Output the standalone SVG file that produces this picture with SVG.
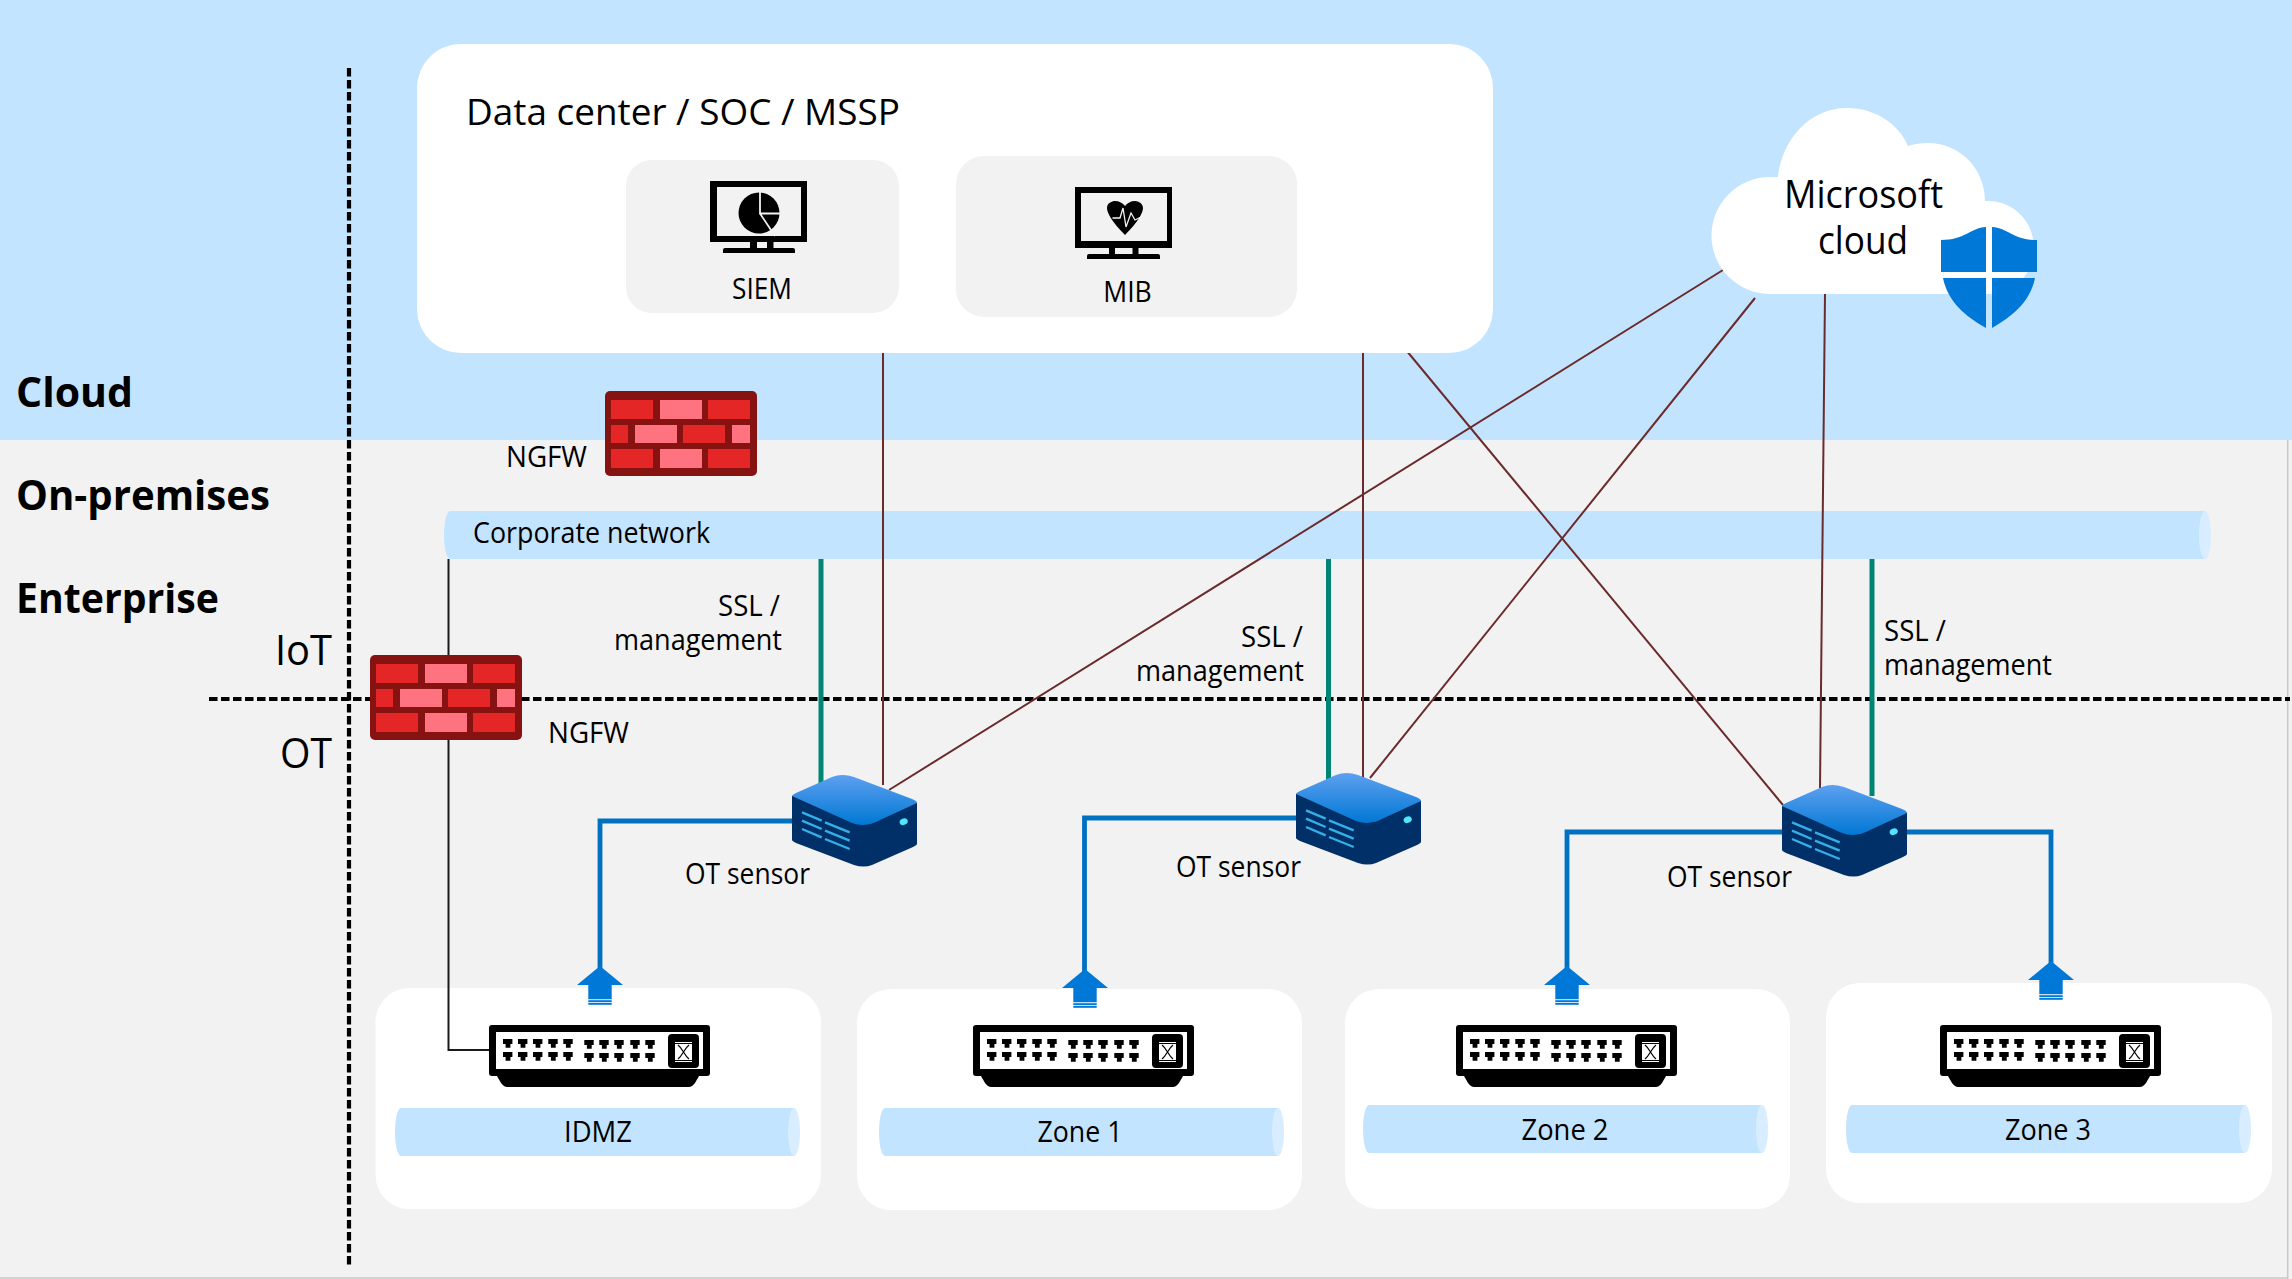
<svg xmlns="http://www.w3.org/2000/svg" width="2292" height="1279" viewBox="0 0 2292 1279">
<style>
text{font-family:"Open Sans","Noto Sans","Liberation Sans",sans-serif;fill:#000}
.l{font-size:28.5px}
.b{font-size:41px;font-weight:700}
.m{font-size:42px}
.c{text-anchor:middle}
.mar{stroke:#6b2a2c;stroke-width:2;fill:none}
.teal{stroke:#008575;stroke-width:5;fill:none}
.blue{stroke:#0070c0;stroke-width:4.8;fill:none;stroke-linejoin:miter}
.blk{stroke:#1a1a1a;stroke-width:2;fill:none}
.dash{stroke:#000;stroke-width:4.2;stroke-dasharray:8.5 3.5;fill:none}
.bar{fill:#c3e4ff}
.cap{fill:#d8edff}
.zone{fill:#fff}
.soft{fill:#f2f2f2}
.red{fill:#e52626}
.pink{fill:#ff7381}
.vent{stroke:#32b0e7;stroke-width:2.4}
</style>
<defs>
<linearGradient id="topFace" x1="0" y1="0" x2="0" y2="1"><stop offset="0" stop-color="#5ea0ef"/><stop offset="1" stop-color="#0078d4"/></linearGradient>
<path id="port" d="M-4.7 0h9.4v5h-2v3.700h-4.800v-3.700h-2.600z"/>
<g id="switch">
<rect x="0" y="0" width="221" height="51" rx="3"/>
<rect x="7" y="7" width="207" height="37" fill="#fff"/>
<path d="M8 51L12 58Q15 62 18 62H200Q203 62 206 58L210 51Z"/>
<rect x="179" y="9" width="31" height="34" rx="4"/>
<rect x="186" y="17" width="17" height="20" fill="#fff"/>
<path d="M186 18.500H203M186 35.500H203M189 20C194 24 195 30 200 34M200 20C195 24 194 30 189 34" stroke="#000" stroke-width="1.200" fill="none"/>
<use href="#port" x="18.700" y="14"/><use href="#port" x="33.700" y="14"/><use href="#port" x="48.700" y="14"/><use href="#port" x="64" y="14"/><use href="#port" x="79" y="14"/>
<use href="#port" x="18.700" y="27"/><use href="#port" x="33.700" y="27"/><use href="#port" x="48.700" y="27"/><use href="#port" x="64" y="27"/><use href="#port" x="79" y="27"/>
<use href="#port" x="100" y="15"/><use href="#port" x="115" y="15"/><use href="#port" x="130" y="15"/><use href="#port" x="146" y="15"/><use href="#port" x="161" y="15"/>
<use href="#port" x="100" y="28"/><use href="#port" x="115" y="28"/><use href="#port" x="130" y="28"/><use href="#port" x="146" y="28"/><use href="#port" x="161" y="28"/>
</g>
<g id="sensor">
<path d="M0 22V66Q0 67 4 69L62 91Q72 94 80 91L121 73Q125 71 125 70V29Z" fill="#003067"/>
<path d="M0 22Q0 21 4 19L40 3Q50 -1 62 3L120 25Q125 27 125 29L88 46Q74 54 60 49Z" fill="url(#topFace)"/>
<path class="vent" d="M10 38.300L29.700 46.700M10 46.600L29.700 55M10 55L29.700 63.400M33 48.300L57.700 58.300M33 56.600L57.700 66.600M33 65L57.700 75"/>
<ellipse cx="111.700" cy="47.700" rx="4.200" ry="3.200" transform="rotate(-25 111.700 47.700)" fill="#50e6ff"/>
</g>
<g id="firewall">
<rect x="0" y="0" width="152" height="85" rx="5" fill="#861212"/>
<rect class="red" x="6" y="9" width="42" height="19"/><rect class="pink" x="55" y="9" width="42" height="19"/><rect class="red" x="103" y="9" width="42" height="19"/>
<rect class="red" x="6" y="34" width="17" height="18"/><rect class="pink" x="30" y="34" width="42" height="18"/><rect class="red" x="78" y="34" width="42" height="18"/><rect class="pink" x="127" y="34" width="18" height="18"/>
<rect class="red" x="6" y="58" width="42" height="19"/><rect class="pink" x="55" y="58" width="42" height="19"/><rect class="red" x="103" y="58" width="42" height="19"/>
</g>
<g id="arrow" fill="#0078d7">
<path d="M0 0L23 19H11.700V33.200H-11.700V19H-23Z"/>
<rect x="-11.700" y="34.200" width="23.400" height="1.800"/>
<rect x="-11.700" y="36.800" width="23.400" height="2"/>
</g>
</defs>

<g id="background">
<rect x="0" y="0" width="2292" height="1279" fill="#f2f2f2"/>
<rect x="0" y="0" width="2292" height="440" fill="#c3e4ff"/>
<path d="M2287.700 440V1279M0 1278H2288" stroke="#c8c8c8" stroke-width="1.500" fill="none"/>
<path class="dash" d="M349 68V1268"/>
<path class="dash" d="M209 699H2290"/>
</g>

<g id="band-labels">
<text class="b" x="16" y="407" textLength="117" lengthAdjust="spacingAndGlyphs">Cloud</text>
<text class="b" x="16" y="510" textLength="254" lengthAdjust="spacingAndGlyphs">On-premises</text>
<text class="b" x="16" y="613" textLength="203" lengthAdjust="spacingAndGlyphs">Enterprise</text>
<text class="m" x="275" y="665" textLength="57" lengthAdjust="spacingAndGlyphs">IoT</text>
<text class="m" x="280" y="768" textLength="52" lengthAdjust="spacingAndGlyphs">OT</text>
</g>

<g id="corporate-network">
<rect class="bar" x="450" y="511" width="1755" height="48"/>
<ellipse class="bar" cx="450" cy="535" rx="6" ry="24"/>
<ellipse class="cap" cx="2205" cy="535" rx="6" ry="24"/>
<text class="l" x="473" y="543" textLength="237" lengthAdjust="spacingAndGlyphs">Corporate network</text>
</g>

<g id="zone-idmz">
<rect class="zone" x="375.500" y="988" width="445.500" height="221" rx="34"/>
<rect class="bar" x="401" y="1108" width="393" height="48"/>
<ellipse class="bar" cx="401" cy="1132" rx="6" ry="24"/>
<ellipse class="cap" cx="794" cy="1132" rx="6" ry="24"/>
<text class="l c" x="598" y="1142" textLength="68" lengthAdjust="spacingAndGlyphs">IDMZ</text>
<use href="#switch" x="489" y="1025"/>
</g>
<g id="zone-1">
<rect class="zone" x="857" y="989" width="445" height="221" rx="34"/>
<rect class="bar" x="885" y="1108" width="393" height="48"/>
<ellipse class="bar" cx="885" cy="1132" rx="6" ry="24"/>
<ellipse class="cap" cx="1278" cy="1132" rx="6" ry="24"/>
<text class="l c" x="1080" y="1142" textLength="85" lengthAdjust="spacingAndGlyphs">Zone 1</text>
<use href="#switch" x="973" y="1025"/>
</g>
<g id="zone-2">
<rect class="zone" x="1345" y="989" width="445" height="220" rx="34"/>
<rect class="bar" x="1369" y="1105" width="393" height="48"/>
<ellipse class="bar" cx="1369" cy="1129" rx="6" ry="24"/>
<ellipse class="cap" cx="1762" cy="1129" rx="6" ry="24"/>
<text class="l c" x="1565" y="1140" textLength="87" lengthAdjust="spacingAndGlyphs">Zone 2</text>
<use href="#switch" x="1456" y="1025"/>
</g>
<g id="zone-3">
<rect class="zone" x="1826" y="983" width="446" height="220" rx="34"/>
<rect class="bar" x="1852" y="1105" width="393" height="48"/>
<ellipse class="bar" cx="1852" cy="1129" rx="6" ry="24"/>
<ellipse class="cap" cx="2245" cy="1129" rx="6" ry="24"/>
<text class="l c" x="2048" y="1140" textLength="86" lengthAdjust="spacingAndGlyphs">Zone 3</text>
<use href="#switch" x="1940" y="1025"/>
</g>

<g id="connectors">
<path class="blk" d="M448.500 559V1050H489"/>
<path class="teal" d="M821 559V790"/>
<path class="teal" d="M1328.500 559V780"/>
<path class="teal" d="M1872 559V796"/>
<path class="mar" d="M883 350V785"/>
<path class="mar" d="M1363 350V780"/>
<path class="mar" d="M1406 350L1783 805"/>
<path class="mar" d="M1723 270L889 790"/>
<path class="mar" d="M1755 298L1370 778"/>
<path class="mar" d="M1825 293L1820 788"/>
<path class="blue" d="M795 821H600V970"/>
<path class="blue" d="M1299 818H1084.500V972"/>
<path class="blue" d="M1785 832H1567V970"/>
<path class="blue" d="M1905 832H2051V965"/>
<use href="#arrow" x="600" y="966"/>
<use href="#arrow" x="1085" y="969"/>
<use href="#arrow" x="1567" y="966"/>
<use href="#arrow" x="2051" y="961"/>
</g>

<g id="data-center">
<rect x="417" y="44" width="1076" height="309" rx="44" fill="#fff"/>
<text x="466" y="125" font-size="37" textLength="434" lengthAdjust="spacingAndGlyphs">Data center / SOC / MSSP</text>
</g>
<g id="siem">
<rect class="soft" x="626" y="160" width="273" height="153" rx="26"/>
<path fill-rule="evenodd" d="M710 181H807V242H710ZM717 187V236H801V187Z"/>
<path d="M750 242h7v6h-7zM767 242h6.500v6h-6.500zM723 253v-3q0-2 2-2h68q2 0 2 2v3z"/>
<circle cx="759" cy="213" r="20.500"/>
<path d="M760 190V213.500H782M760 213.500L775 236" stroke="#f2f2f2" stroke-width="1.800" fill="none"/>
<text class="l c" x="762" y="299" textLength="60" lengthAdjust="spacingAndGlyphs">SIEM</text>
</g>
<g id="mib">
<rect class="soft" x="956" y="156" width="341" height="161" rx="28"/>
<path fill-rule="evenodd" d="M1075 187H1172V248H1075ZM1081 193V241H1167V193Z"/>
<path d="M1109 248h6v6h-6zM1132.500 248h6v6h-6zM1087 259v-3q0-2 2-2h69q2 0 2 2v3z"/>
<path d="M1125 235C1112 222 1107 213 1107 208C1107 203 1112 201 1115 201C1119 201 1123 203 1125 206C1127 203 1131 201 1135 201C1139 201 1143 204 1143 208C1143 213 1138 222 1125 235Z"/>
<path d="M1112.500 218H1120L1123 208L1126 227L1131 213L1135 220L1141 217" stroke="#f2f2f2" stroke-width="1.300" fill="none"/>
<text class="l c" x="1127.500" y="302" textLength="48.500" lengthAdjust="spacingAndGlyphs">MIB</text>
</g>
<g id="microsoft-cloud">
<path fill="#fff" d="M1770 294A58.500 58.500 0 0 1 1770 177H1778C1782 139 1810 108 1847 108C1875 108 1899 124 1908 146C1914 144 1921 143 1928 143C1960 143 1985 169 1985 201H1988C2014 201 2034 222 2034 248C2034 274 2014 294 1988 294Z"/>
<text x="1784" y="208" font-size="38" textLength="159" lengthAdjust="spacingAndGlyphs">Microsoft</text>
<text x="1818" y="254" font-size="38" textLength="90" lengthAdjust="spacingAndGlyphs">cloud</text>
<g fill="#0078d7">
<path d="M1941 240C1965 240 1970 228 1986 227V272H1941Z"/>
<path d="M1992 227C2008 228 2013 240 2037 240V272H1992Z"/>
<path d="M1943 278H1986V328C1965 316 1948 302 1943 278Z"/>
<path d="M1992 278H2035C2030 302 2013 316 1992 328Z"/>
</g>
</g>
<g id="ngfw-cloud">
<use href="#firewall" x="605" y="391"/>
<text class="l" x="506" y="467" textLength="81" lengthAdjust="spacingAndGlyphs">NGFW</text>
</g>
<g id="ngfw-ot">
<use href="#firewall" x="370" y="655"/>
<text class="l" x="548" y="743" textLength="81" lengthAdjust="spacingAndGlyphs">NGFW</text>
</g>
<g id="ssl-labels">
<text class="l" x="718" y="616" textLength="62" lengthAdjust="spacingAndGlyphs">SSL /</text>
<text class="l" x="614" y="650" textLength="168" lengthAdjust="spacingAndGlyphs">management</text>
<text class="l" x="1241" y="647" textLength="62" lengthAdjust="spacingAndGlyphs">SSL /</text>
<text class="l" x="1136" y="681" textLength="168" lengthAdjust="spacingAndGlyphs">management</text>
<text class="l" x="1884" y="641" textLength="62" lengthAdjust="spacingAndGlyphs">SSL /</text>
<text class="l" x="1884" y="675" textLength="168" lengthAdjust="spacingAndGlyphs">management</text>
</g>
<g id="sensor-1">
<use href="#sensor" x="792" y="774"/>
<text class="l" x="685" y="884" textLength="125" lengthAdjust="spacingAndGlyphs">OT sensor</text>
</g>
<g id="sensor-2">
<use href="#sensor" x="1296" y="772"/>
<text class="l" x="1176" y="877" textLength="125" lengthAdjust="spacingAndGlyphs">OT sensor</text>
</g>
<g id="sensor-3">
<use href="#sensor" x="1782" y="784"/>
<text class="l" x="1667" y="887" textLength="125" lengthAdjust="spacingAndGlyphs">OT sensor</text>
</g>
</svg>
